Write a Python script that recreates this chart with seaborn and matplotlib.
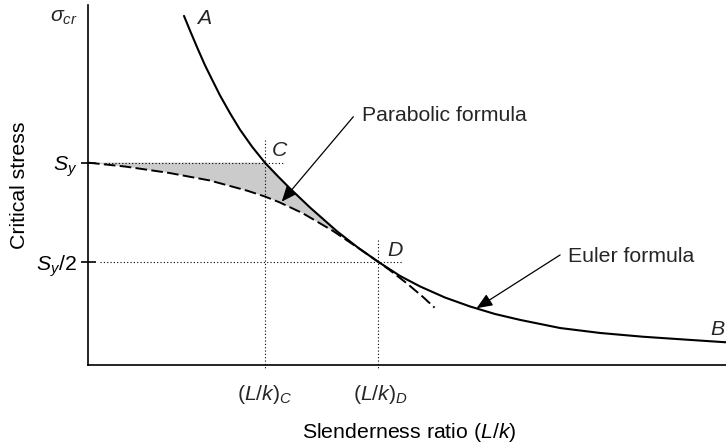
import numpy as np
import pandas as pd
import matplotlib
matplotlib.use("Agg")
import matplotlib.pyplot as plt
import seaborn as sns

# Euler curve A-B (slenderness in chart units, stress as a fraction of Sy)
euler_lk = [33.1, 35.2, 37.6, 40.3, 42.8, 45.5, 49.0, 52.4, 56.6, 61.0, 65.5, 69.7,
            76.6, 85.9, 93.1, 100.0, 107.6, 114.5, 123.1, 131.7, 140.3, 149.0,
            162.8, 176.6, 191.4, 207.6, 220.0]
euler_stress = [1.741, 1.666, 1.583, 1.493, 1.419, 1.340, 1.249, 1.167, 1.080, 1.000,
                0.931, 0.869, 0.773, 0.653, 0.571, 0.500, 0.428, 0.375, 0.319, 0.274,
                0.236, 0.206, 0.165, 0.140, 0.121, 0.105, 0.093]

# Parabolic (Johnson) curve, tangent to Euler at D
parab_lk = [0, 13, 28, 42, 55, 61, 66, 74, 84.5, 94, 100, 104, 110, 115.5, 119.5]
parab_stress = [1.0, 0.980, 0.948, 0.910, 0.858, 0.829, 0.800, 0.745, 0.655, 0.561,
                0.500, 0.458, 0.390, 0.322, 0.268]

# Reference values
sy = 1.0
lk_c = 61.0
lk_d = 100.0
ytick_vals = [sy / 2, sy]
ytick_labels = [r"$S_y/2$", r"$S_y$"]

sns.set_theme(style="white")
plt.rcParams["font.family"] = ["Liberation Sans", "DejaVu Sans"]
plt.rcParams["mathtext.fontset"] = "custom"
plt.rcParams["mathtext.rm"] = "Liberation Sans"
plt.rcParams["mathtext.it"] = "Liberation Sans:italic"
plt.rcParams["mathtext.bf"] = "Liberation Sans:bold"

FS = 15.3

fig = plt.figure(figsize=(7.26, 4.47), dpi=100)
fig.patch.set_facecolor("white")
ax = fig.add_axes([88 / 726, 82 / 447, 638 / 726, 360 / 447])
ax.set_facecolor("white")

df_e = pd.DataFrame({"lk": euler_lk, "stress": euler_stress})
df_p = pd.DataFrame({"lk": parab_lk, "stress": parab_stress})

# shaded region between the yield line / Euler curve and the parabola
top_x = [0.0, lk_c] + [x for x in euler_lk if lk_c < x <= lk_d]
top_y = [sy, sy] + [y for x, y in zip(euler_lk, euler_stress) if lk_c < x <= lk_d]
bot = [(x, y) for x, y in zip(parab_lk, parab_stress) if x <= lk_d][::-1]
poly_x = top_x + [p[0] for p in bot]
poly_y = top_y + [p[1] for p in bot]
ax.fill(poly_x, poly_y, color="#cbcbcb", lw=0, zorder=1)

# dotted guide lines
dot = dict(color="black", lw=0.8, linestyle=(0, (1, 2)), zorder=2, clip_on=False)
ax.plot([5.9, 68.0], [sy, sy], **dot)
ax.plot([4.1, 108.6], [sy / 2, sy / 2], **dot)
ax.plot([lk_c, lk_c], [1.115, -0.047], **dot)
ax.plot([lk_d, lk_d], [0.61, -0.047], **dot)

sns.lineplot(data=df_p, x="lk", y="stress", ax=ax, color="black", lw=1.4,
             linestyle=(0, (6, 2.2)), estimator=None, sort=False, zorder=3)
sns.lineplot(data=df_e, x="lk", y="stress", ax=ax, color="black", lw=1.5,
             estimator=None, sort=False, zorder=4)

ax.set_xlim(0, 220)
ax.set_ylim(-0.0217, 1.796)

for s in ["top", "right"]:
    ax.spines[s].set_visible(False)
for s in ["left", "bottom"]:
    ax.spines[s].set_color("black")
    ax.spines[s].set_linewidth(1.2)

ax.set_xticks([])
ax.set_yticks(ytick_vals, ytick_labels, fontsize=FS)
ax.tick_params(axis="y", direction="inout", length=10.8, width=1.2, pad=2.5,
               colors="black", left=True)

xt = ax.get_xaxis_transform()
ax.text(lk_c, -0.0972, r"$(L/k)_C$", transform=xt, ha="center", va="baseline", fontsize=FS)
ax.text(lk_d + 1, -0.0972, r"$(L/k)_D$", transform=xt, ha="center", va="baseline", fontsize=FS)

ax.set_xlabel(r"Slenderness ratio $(L/k)$", fontsize=FS, color="black")
ax.xaxis.label.set_va("baseline")
ax.xaxis.set_label_coords(0.503, -0.2036)
ax.set_ylabel("Critical stress", fontsize=FS, color="black")
ax.yaxis.set_label_coords(-0.0917, 0.5)

# point and axis labels
ax.text(-3.45, 1.712, r"$\sigma_{cr}$", ha="right", va="baseline", fontsize=FS)
ax.text(37.6, 1.700, "A", fontstyle="italic", ha="left", va="baseline", fontsize=FS)
ax.text(63.4, 1.034, "C", fontstyle="italic", ha="left", va="baseline", fontsize=FS)
ax.text(103.1, 0.529, "D", fontstyle="italic", ha="left", va="baseline", fontsize=FS)
ax.text(214.5, 0.130, "B", fontstyle="italic", ha="left", va="baseline", fontsize=FS,
        clip_on=False)

# callouts
arrow = dict(arrowstyle="-|>,head_length=0.6,head_width=0.25", mutation_scale=16,
             color="black", lw=0.9, shrinkA=0, shrinkB=0)
ax.annotate("", xy=(66.8, 0.803), xytext=(91.5, 1.232), arrowprops=arrow, zorder=5)
ax.text(94.5, 1.211, "Parabolic formula", ha="left", va="baseline", fontsize=FS)
ax.annotate("", xy=(134.0, 0.265), xytext=(162.8, 0.534), arrowprops=arrow, zorder=5)
ax.text(165.5, 0.497, "Euler formula", ha="left", va="baseline", fontsize=FS)

fig.savefig("out.png", dpi=100, facecolor="white")
